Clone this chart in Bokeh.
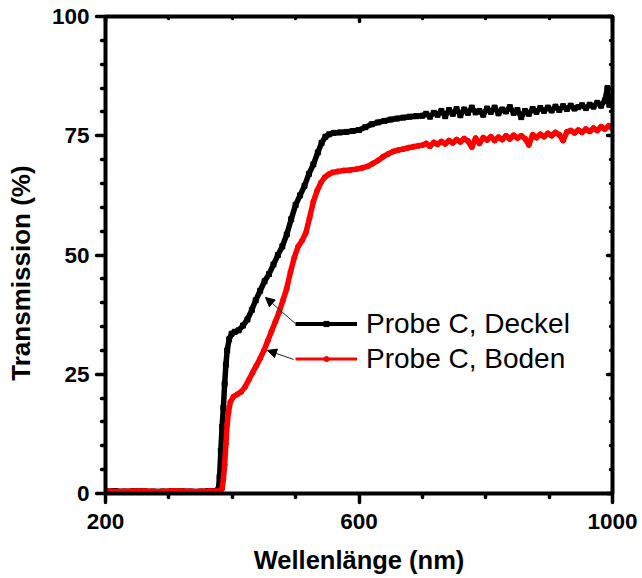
import math
from bokeh.plotting import figure
from bokeh.models import (Range1d, LinearAxis, FixedTicker, Legend,
                          LegendItem, Arrow, NormalHead)
from bokeh.embed import file_html
from bokeh.resources import INLINE

# ---------------- data ----------------
deckel_nm = [200, 215, 230, 245, 260, 275, 290, 305, 320, 335, 350, 362, 372, 378, 380, 382,
             384, 386, 388, 390, 392, 395, 399, 404, 410, 417, 424, 431, 437, 444, 451, 458,
             465, 472, 479, 486, 493, 500, 507, 514, 521, 528, 535, 541, 547, 553, 560, 570,
             580, 590, 600, 610, 620, 630, 640, 650, 660, 670, 680, 690,
             700, 706, 712, 718, 724, 730, 736, 742, 748, 754, 760, 766, 772, 778,
             784, 790, 796, 802, 808, 814, 820, 826, 832, 838, 844, 850, 856, 862,
             868, 874, 880, 886, 892, 898, 904, 910, 916, 922, 928, 934, 940, 946,
             952, 958, 964, 970, 976, 982, 988, 992, 995, 998, 1000]
deckel_t = [0.5, 0.5, 0.4, 0.5, 0.5, 0.4, 0.4, 0.5, 0.5, 0.4, 0.4, 0.5, 0.5, 0.8, 3.5, 9.0,
            14.0, 18.0, 23.0, 27.0, 30.0, 32.3, 33.5, 33.9, 34.2, 35.2, 36.5, 38.5, 40.5, 42.5, 44.5, 46.0,
            48.0, 50.0, 51.8, 54.3, 57.5, 60.5, 62.5, 64.5, 67.0, 69.0, 71.5, 73.5, 74.8, 75.3, 75.6, 75.7,
            75.8, 76.0, 76.2, 76.8, 77.4, 77.8, 78.1, 78.4, 78.6, 78.8, 79.0, 79.1,
            79.2, 79.6, 79.0, 79.8, 79.4, 80.2, 79.1, 80.4, 79.6, 80.6, 79.3, 80.5, 79.8, 80.9,
            79.9, 80.2, 79.4, 80.7, 80.0, 80.9, 79.7, 80.5, 80.1, 81.0, 79.8, 80.4, 78.9, 80.2,
            79.6, 80.6, 80.0, 80.8, 80.2, 80.9, 80.3, 81.1, 80.4, 81.2, 80.6, 81.3, 80.7, 81.0,
            81.4, 80.8, 81.5, 81.1, 81.9, 81.3, 82.4, 85.0, 81.5, 82.6, 82.0]

boden_nm = [200, 215, 230, 245, 260, 275, 290, 305, 320, 335, 350, 365, 380, 384, 386, 388,
            390, 392, 394, 397, 402, 408, 414, 420, 426, 432, 438, 444, 450, 456, 462, 468,
            474, 480, 486, 492, 498, 504, 510, 516, 522, 528, 534, 540, 546, 552, 558, 566,
            576, 586, 596, 606, 614, 622, 630, 638, 646, 654, 662, 670, 678, 686, 694,
            700, 706, 712, 718, 724, 730, 736, 742, 748, 754, 760, 766, 772, 778,
            784, 790, 796, 802, 808, 814, 820, 826, 832, 838, 844, 850, 856, 862,
            868, 874, 880, 886, 892, 898, 904, 910, 916, 922, 928, 934, 940, 946,
            952, 958, 964, 970, 976, 982, 988, 994, 1000]
boden_t = [0.5, 0.4, 0.4, 0.5, 0.5, 0.4, 0.4, 0.5, 0.5, 0.4, 0.4, 0.5, 0.5, 1.0, 3.0, 6.0,
           10.5, 14.5, 17.0, 19.2, 20.3, 20.8, 21.3, 22.3, 23.8, 25.3, 26.8, 28.3, 30.0, 32.0, 34.0, 36.0,
           38.0, 40.5, 43.0, 46.5, 49.5, 51.8, 53.0, 54.6, 57.8, 61.2, 63.5, 65.2, 66.3, 66.9, 67.3, 67.5,
           67.7, 67.8, 68.0, 68.3, 68.6, 69.2, 69.8, 70.6, 71.2, 71.7, 72.0, 72.2, 72.5, 72.7, 72.9,
           73.0, 73.4, 72.8, 73.6, 73.2, 73.8, 73.3, 74.0, 73.5, 74.2, 73.7, 74.4, 73.9, 72.6,
           74.5, 73.4, 74.6, 74.1, 74.8, 74.0, 74.7, 74.2, 75.0, 74.3, 75.1, 74.5, 75.0, 74.4,
           73.1, 75.2, 74.6, 75.3, 74.8, 75.5, 75.0, 75.7, 75.2, 74.0, 75.8, 76.1, 75.6, 76.2,
           75.7, 76.4, 75.9, 76.6, 76.1, 76.9, 76.4, 77.1, 76.5]

series_names = ["Probe C, Deckel", "Probe C, Boden"]
series_colors = ["#000000", "#ff0000"]
series_markers = ["square", "circle"]

x_major = [200, 600, 1000]
x_minor = [300, 400, 500, 700, 800, 900]
y_major = [0, 25, 50, 75, 100]
y_minor = [5, 10, 15, 20, 30, 35, 40, 45, 55, 60, 65, 70, 80, 85, 90, 95]

x_title = "Wellenlänge (nm)"
y_title = "Transmission (%)"

FONT = "Liberation Sans"
NBSP = "\u00a0"

# ---------------- figure ----------------
p = figure(width=642, height=578, x_range=Range1d(200, 1000), y_range=Range1d(0, 100),
           output_backend="svg", toolbar_location=None,
           min_border_left=105, min_border_right=30, min_border_top=16, min_border_bottom=85)
p.grid.visible = False
p.outline_line_color = None
p.background_fill_color = "white"
p.border_fill_color = "white"


def style_axis(ax, ticks, minor, outside, labels):
    ax.ticker = FixedTicker(ticks=ticks, minor_ticks=minor)
    ax.axis_line_width = 4
    ax.axis_line_color = "black"
    ax.major_tick_line_color = "black"
    ax.minor_tick_line_color = "black"
    ax.major_tick_line_width = 3.5
    ax.minor_tick_line_width = 3.5
    ax.major_tick_line_cap = "round"
    ax.minor_tick_line_cap = "round"
    if outside:
        ax.major_tick_out, ax.major_tick_in = 9, 0
        ax.minor_tick_out, ax.minor_tick_in = 4, 0
    else:
        ax.major_tick_out, ax.major_tick_in = 0, 5
        ax.minor_tick_out, ax.minor_tick_in = 0, 2
    if labels:
        ax.major_label_text_font = FONT
        ax.major_label_text_font_style = "bold"
        ax.major_label_text_font_size = "22.5px"
        ax.major_label_text_color = "black"
    else:
        ax.major_label_text_color = None
        ax.major_label_text_font_size = "0px"
        ax.major_label_standoff = 0


xa = p.xaxis[0]
ya = p.yaxis[0]
style_axis(xa, x_major, x_minor, True, True)
style_axis(ya, y_major, y_minor, True, True)
xa.major_label_standoff = 11
ya.major_label_standoff = 7

xa.axis_label = x_title
xa.axis_label_text_font = FONT
xa.axis_label_text_font_style = "bold"
xa.axis_label_text_font_size = "25.5px"
xa.axis_label_text_color = "black"
xa.axis_label_standoff = 14

# trailing no-break spaces shift the rotated title down, as in the original
ya.axis_label = y_title + NBSP * 5
ya.axis_label_text_font = FONT
ya.axis_label_text_font_style = "bold"
ya.axis_label_text_font_size = "26px"
ya.axis_label_text_color = "black"
ya.axis_label_standoff = 13

top_ax = LinearAxis()
style_axis(top_ax, x_major, x_minor, False, False)
p.add_layout(top_ax, "above")
right_ax = LinearAxis()
style_axis(right_ax, y_major, y_minor, False, False)
p.add_layout(right_ax, "right")

# ---------------- series ----------------
data = [(deckel_nm, deckel_t), (boden_nm, boden_t)]
for (xs, ys), col, mk in zip(data, series_colors, series_markers):
    p.line(xs, ys, line_color=col, line_width=5.5, line_join="round")
    p.scatter(xs, ys, marker=mk, size=5, color=col)

# legend sample glyphs (one NaN point each: drawn only in the legend)
items = []
leg_widths = [4, 3]
nan = float("nan")
for name, col, mk, lw in zip(series_names, series_colors, series_markers, leg_widths):
    lr = p.line([nan], [nan], line_color=col, line_width=lw)
    sr = p.scatter([nan], [nan], marker=mk, size=5, color=col)
    items.append(LegendItem(label=name, renderers=[lr, sr]))

legend = Legend(items=items, location=(190, 117), orientation="vertical",
                label_text_font=FONT, label_text_font_size="28px", label_text_color="black",
                glyph_width=62, glyph_height=13, label_height=35, label_standoff=9,
                spacing=0, padding=0, margin=0, border_line_color=None,
                background_fill_alpha=0)
p.add_layout(legend)

# pointer arrows from legend samples to curves
p.add_layout(Arrow(x_start=499.8, y_start=35.6, x_end=452.5, y_end=41.1,
                   line_color="#222222", line_width=1,
                   end=NormalHead(size=9, fill_color="black", line_color="black", line_width=1)))
p.add_layout(Arrow(x_start=496.7, y_start=28.1, x_end=455.6, y_end=30.0,
                   line_color="#222222", line_width=1,
                   end=NormalHead(size=9, fill_color="black", line_color="black", line_width=1)))

open("out.html", "w").write(file_html(p, INLINE))
